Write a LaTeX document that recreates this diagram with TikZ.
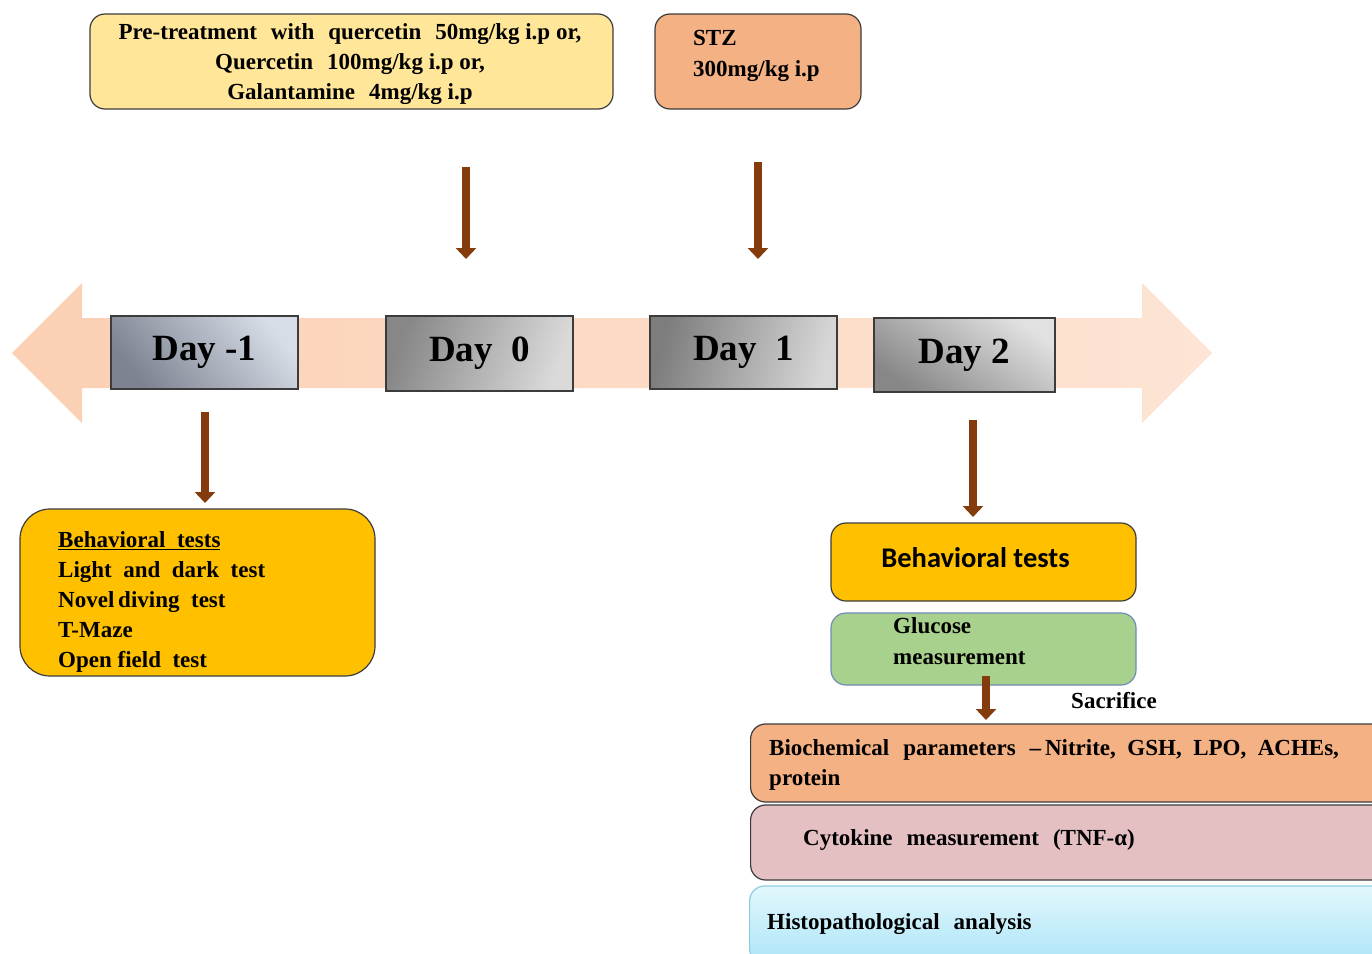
\documentclass[tikz,border=0pt]{standalone}
\usepackage{fontspec}
\setmainfont{Liberation Serif}[BoldFont={Liberation Serif Bold}]
\newfontfamily\tms{Liberation Serif Bold}[Ligatures=TeX]
\newfontfamily\calib{Carlito}
\usetikzlibrary{arrows.meta}
\definecolor{brownc}{RGB}{132,60,12}
\definecolor{bordc}{RGB}{60,60,60}
\definecolor{peachL}{RGB}{251,208,180}
\definecolor{peachR}{RGB}{253,228,212}
\definecolor{lightyel}{RGB}{255,230,153}
\definecolor{salmon}{RGB}{244,177,131}
\definecolor{gold}{RGB}{255,192,0}
\definecolor{greenc}{RGB}{169,209,142}
\definecolor{greenb}{RGB}{110,140,180}
\definecolor{pinkc}{RGB}{228,192,194}
\definecolor{cyanT}{RGB}{226,247,253}
\definecolor{cyanB}{RGB}{172,229,247}
\definecolor{cyanD}{RGB}{140,205,225}
\newcommand{\wsp}{\hspace{14pt}}
\begin{document}
\begin{tikzpicture}[x=1pt,y=-1pt,
  box/.style={draw=bordc, line width=1.2pt, rounded corners=15pt, inner sep=0pt},
  daybox/.style={draw=bordc, line width=1.3pt, inner sep=0pt, minimum height=73pt,
    font=\tms\fontsize{37}{40}\selectfont},
  arr/.style={draw=brownc, line width=8pt, -{Triangle[width=20pt,length=11pt]}},
  txt/.style={font=\tms\fontsize{23}{30}\selectfont, inner sep=0pt, align=left},
  ctxt/.style={font=\tms\fontsize{23}{30}\selectfont, inner sep=0pt, align=center}
]
\useasboundingbox (0,0) rectangle (1372,953);
\clip (0,0) rectangle (1372,953);

% timeline double arrow
\shade[left color=peachL, right color=peachR]
  (12,353) -- (82,283) -- (82,318) -- (1142,318) -- (1142,283) -- (1212,353)
  -- (1142,423) -- (1142,388) -- (82,388) -- (82,423) -- cycle;

% day boxes
\node[daybox, minimum width=187pt, top color={rgb,255:red,215;green,221;blue,230},
  bottom color={rgb,255:red,125;green,131;blue,145}, shading angle=-50] (dm1) at (204.5,352.5) {Day -1};
\node[daybox, minimum width=187pt, minimum height=75pt, left color={rgb,255:red,135;green,135;blue,135},
  right color={rgb,255:red,218;green,218;blue,218}, shading angle=70] (d0) at (479.5,353.5) {Day\ \ 0};
\node[daybox, minimum width=187pt, left color={rgb,255:red,125;green,125;blue,125},
  right color={rgb,255:red,215;green,215;blue,215}, shading angle=75] (d1) at (743.5,352.5) {Day\ \ 1};
\node[daybox, minimum width=181pt, minimum height=74pt, top color={rgb,255:red,225;green,225;blue,225},
  bottom color={rgb,255:red,135;green,135;blue,135}, shading angle=-35] (d2) at (964.5,355) {Day 2};

% top boxes
\node[box, fill=lightyel, minimum width=523pt, minimum height=95pt] (pre) at (351.5,61.5) {};
\node[ctxt] (preT) at (350,64) {Pre-treatment\wsp with\wsp quercetin\wsp 50mg/kg\ i.p\ or,\\Quercetin\wsp 100mg/kg\ i.p\ or,\\Galantamine\wsp 4mg/kg\ i.p};
\node[box, fill=salmon, minimum width=206pt, minimum height=95pt] (stz) at (758,61.5) {};
\node[txt, anchor=west, font=\tms\fontsize{23}{31}\selectfont] (stzT) at (693,55.5) {STZ\\300mg/kg\ i.p};

% arrows
\coordinate (a1s) at (466,167); \coordinate (a1e) at (466,259);
\coordinate (a2s) at (758,162); \coordinate (a2e) at (758,259);
\coordinate (a3s) at (205,412); \coordinate (a3e) at (205,503);
\coordinate (a4s) at (973,420); \coordinate (a4e) at (973,517);
\coordinate (a5s) at (986,676); \coordinate (a5e) at (986,720);
\draw[arr] (a1s) -- (a1e);
\draw[arr] (a2s) -- (a2e);
\draw[arr] (a3s) -- (a3e);
\draw[arr] (a4s) -- (a4e);

% left bottom box
\node[box, rounded corners=30pt, fill=gold, minimum width=355pt, minimum height=167pt] (lbt) at (197.5,592.5) {};
\node[txt, anchor=west, font=\tms\fontsize{23}{29.8}\selectfont] (lbtT) at (58,602)
  {\underline{Behavioral\ \ tests}\\Light\ \ and\ \ dark\ \ test\\Novel\,diving\ \ test\\T-Maze\\Open\ field\ \ test};

% right column
\node[box, fill=gold, minimum width=305pt, minimum height=78pt] (rbt) at (983.5,562) {};
\node[inner sep=0pt, font=\calib\bfseries\fontsize{28.5}{30}\selectfont] (rbtT) at (975.5,558) {Behavioral tests};
\node[box, draw=greenb, fill=greenc, minimum width=305pt, minimum height=72pt] (glu) at (983.5,649) {};
\node[txt, anchor=west, font=\tms\fontsize{23}{31}\selectfont] (gluT) at (893,641.5) {Glucose\\measurement};
\draw[arr] (a5s) -- (a5e);
\node[txt] (sac) at (1114,701) {Sacrifice};

\node[box, fill=salmon, minimum width=640pt, minimum height=78pt, anchor=west] (bio) at (750,763) {};
\node[txt, anchor=west] (bioT) at (769,765) {Biochemical\wsp parameters\wsp –\,Nitrite,\ \ GSH,\ \ LPO,\ \ ACHEs,\\protein};
\node[box, fill=pinkc, minimum width=640pt, minimum height=75pt, anchor=west] (cyt) at (750,842.5) {};
\node[txt, anchor=west] (cytT) at (803,840) {Cytokine\wsp measurement\wsp (TNF-α)};
\node[box, draw=cyanD, top color=cyanT, bottom color=cyanB, minimum width=640pt, minimum height=78pt, anchor=west] (his) at (749,925) {};
\node[txt, anchor=west] (hisT) at (767,924) {Histopathological\hspace{14pt}analysis};
\end{tikzpicture}
\end{document}
